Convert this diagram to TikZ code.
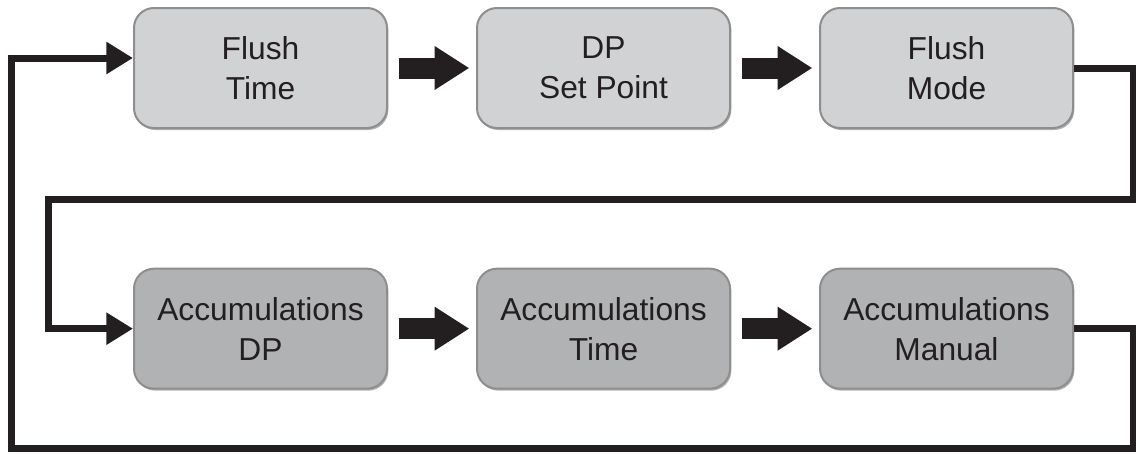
\documentclass[tikz,border=0pt]{standalone}
\usepackage{fontspec}
\setmainfont{Liberation Sans}
\usetikzlibrary{positioning, shadows, arrows.meta}

\definecolor{flushgray}{HTML}{D1D2D4}
\definecolor{accgray}{HTML}{B1B2B4}
\definecolor{boxline}{HTML}{8E8E8E}
\definecolor{ink}{HTML}{231F20}

\begin{document}
\begin{tikzpicture}[
    x=0.75pt, y=-0.75pt,
    node distance=66pt,
    stepbox/.style={rectangle, rounded corners=15pt, draw=boxline, line width=1.5pt,
        minimum width=189.75pt, minimum height=90pt, align=center, text=ink,
        font=\fontsize{23.8}{30}\selectfont,
        drop shadow={shadow xshift=1pt, shadow yshift=-1.5pt, opacity=0.3, fill=black}},
    flushbox/.style={stepbox, fill=flushgray},
    accbox/.style={stepbox, fill=accgray},
    bigarrow/.style={ink, line width=15.75pt, -{Triangle[length=26pt, width=31pt]},
        shorten <=8pt, shorten >=5pt},
    loopline/.style={ink, line width=5.25pt, -{Triangle[length=20pt, width=23pt]}}
]
\useasboundingbox (0,0) rectangle (1136,454);

% Flush steps
\node[flushbox] (ftime) at (260.5,68) {Flush\\Time};
\node[flushbox, right=of ftime] (dpset) {DP\\Set Point};
\node[flushbox, right=of dpset] (fmode) {Flush\\Mode};

% Accumulation steps
\node[accbox, below=104pt of ftime] (accdp) {Accumulations\\DP};
\node[accbox, right=of accdp] (acctime) {Accumulations\\Time};
\node[accbox, right=of acctime] (accman) {Accumulations\\Manual};

% Corners of the loop
\coordinate (rtop) at (1133,199);
\coordinate (ltop) at (48,199);
\coordinate (rbot) at (1133,448);
\coordinate (lbot) at (11,448);

% Arrows
\draw[bigarrow] (ftime) -- (dpset);
\draw[bigarrow] (dpset) -- (fmode);
\draw[bigarrow] (accdp) -- (acctime);
\draw[bigarrow] (acctime) -- (accman);
\draw[loopline] (fmode) -| (rtop) -- (ltop) |- (accdp);
\draw[loopline] (accman) -| (rbot) -- (lbot) |- ([yshift=7.5pt]ftime.west);

\end{tikzpicture}
\end{document}
